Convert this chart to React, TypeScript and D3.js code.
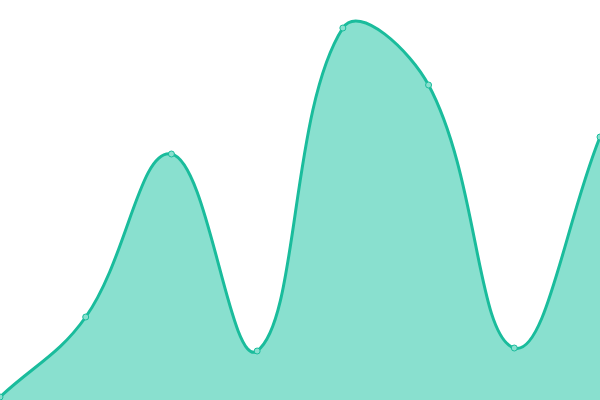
import React, { useEffect, useRef } from "react";
import * as d3 from "d3";

const labels = ["a", "b", "c", "d", "e", "f", "g", "h"];
const values = [3, 83, 246, 49, 372, 315, 52, 263];

// spline with distance-weighted control points (tension 0.4)
class TensionCurve {
  _context: any;
  _line: number = NaN;
  _x: number[] = [];
  _y: number[] = [];
  constructor(context: any) {
    this._context = context;
  }
  areaStart() {
    this._line = 0;
  }
  areaEnd() {
    this._line = NaN;
  }
  lineStart() {
    this._x = [];
    this._y = [];
  }
  point(x: number, y: number) {
    this._x.push(+x);
    this._y.push(+y);
  }
  lineEnd() {
    const xs = this._x;
    const ys = this._y;
    const n = xs.length;
    const t = 0.4;
    if (n) {
      this._line ? this._context.lineTo(xs[0], ys[0]) : this._context.moveTo(xs[0], ys[0]);
      if (n === 2) this._context.lineTo(xs[1], ys[1]);
      else if (n > 2) {
        const cp = xs.map((_, i) => {
          const p = Math.max(i - 1, 0);
          const q = Math.min(i + 1, n - 1);
          const d01 = Math.hypot(xs[i] - xs[p], ys[i] - ys[p]);
          const d12 = Math.hypot(xs[q] - xs[i], ys[q] - ys[i]);
          let s01 = d01 / (d01 + d12);
          let s12 = d12 / (d01 + d12);
          if (isNaN(s01)) s01 = 0;
          if (isNaN(s12)) s12 = 0;
          const fa = t * s01;
          const fb = t * s12;
          return {
            px: xs[i] - fa * (xs[q] - xs[p]),
            py: ys[i] - fa * (ys[q] - ys[p]),
            nx: xs[i] + fb * (xs[q] - xs[p]),
            ny: ys[i] + fb * (ys[q] - ys[p]),
          };
        });
        for (let i = 1; i < n; i++) {
          this._context.bezierCurveTo(
            cp[i - 1].nx,
            cp[i - 1].ny,
            cp[i].px,
            cp[i].py,
            xs[i],
            ys[i]
          );
        }
      }
    }
    if (this._line || (this._line !== 0 && n === 1)) this._context.closePath();
    this._line = 1 - this._line;
  }
}

const tensionCurve = (context: any) => new TensionCurve(context);

export default function App() {
  const ref = useRef<SVGSVGElement>(null);

  useEffect(() => {
    if (!ref.current) return;
    const width = 600;
    const height = 400;
    const svg = d3.select(ref.current);
    svg.selectAll("*").remove();

    const x = d3.scalePoint().domain(labels).range([0, width]);
    const y = d3.scaleLinear().domain([0, 400]).range([height, 0]);

    const data = labels.map((l, i) => ({ l, v: values[i] }));

    const area = d3
      .area<{ l: string; v: number }>()
      .x((d) => x(d.l) as number)
      .y0(height)
      .y1((d) => y(d.v))
      .curve(tensionCurve as any);

    const line = d3
      .line<{ l: string; v: number }>()
      .x((d) => x(d.l) as number)
      .y((d) => y(d.v))
      .curve(tensionCurve as any);

    svg.append("path").attr("d", area(data)).attr("fill", "#89e0cf");
    svg
      .append("path")
      .attr("d", line(data))
      .attr("fill", "none")
      .attr("stroke", "#1abc9c")
      .attr("stroke-width", 3);

    svg
      .selectAll("circle")
      .data(data)
      .enter()
      .append("circle")
      .attr("cx", (d) => x(d.l) as number)
      .attr("cy", (d) => y(d.v))
      .attr("r", 3)
      .attr("fill", "#89e0cf")
      .attr("stroke", "#1abc9c")
      .attr("stroke-width", 1);
  }, []);

  return (
    <div style={{ position: "fixed", left: 0, top: 0 }}>
      <svg ref={ref} width={600} height={400} style={{ display: "block" }}></svg>
    </div>
  );
}
